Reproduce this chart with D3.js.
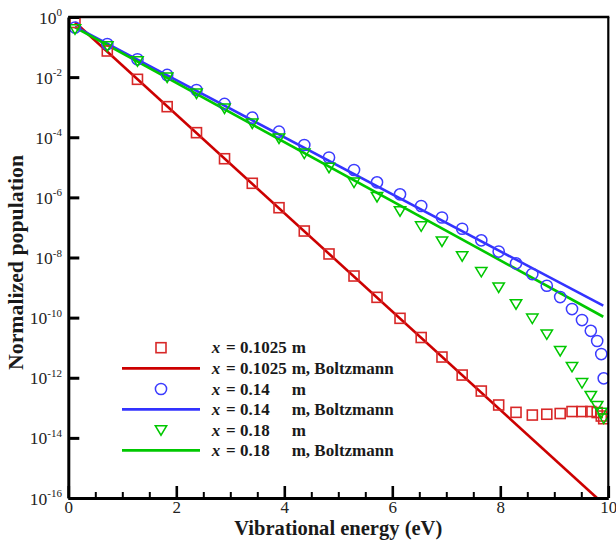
<!DOCTYPE html>
<html><head><meta charset="utf-8">
<script src="https://cdn.jsdelivr.net/npm/d3@7"></script>
<style>
html,body{margin:0;padding:0;background:#fff;}
</style></head>
<body>
<svg id="chart" width="616" height="544"></svg>
<script>
// ---- data ----
const energy = [0.124, 0.722, 1.281, 1.831, 2.374, 2.893, 3.407, 3.902, 4.370, 4.828, 5.291, 5.717, 6.143, 6.535, 6.920, 7.294, 7.648, 7.970, 8.291, 8.593, 8.861, 9.109, 9.328, 9.513, 9.676, 9.794, 9.870, 9.915];
const popX01025 = [6.56e-1, 7.40e-2, 8.45e-3, 1.04e-3, 1.42e-4, 1.93e-5, 2.94e-6, 4.53e-7, 7.60e-8, 1.31e-8, 2.42e-9, 4.73e-10, 9.48e-11, 2.18e-11, 4.89e-12, 1.23e-12, 3.61e-13, 1.24e-13, 7.06e-14, 5.75e-14, 6.11e-14, 6.46e-14, 7.52e-14, 7.52e-14, 7.52e-14, 6.97e-14, 5.33e-14, 4.34e-14];
const popX014 = [4.48e-1, 1.26e-1, 3.92e-2, 1.18e-2, 3.73e-3, 1.28e-3, 4.47e-4, 1.53e-4, 5.52e-5, 2.12e-5, 8.13e-6, 3.17e-6, 1.26e-6, 5.16e-7, 2.14e-7, 9.06e-8, 3.73e-8, 1.58e-8, 6.40e-9, 2.82e-9, 1.15e-9, 4.84e-10, 1.93e-10, 8.32e-11, 3.64e-11, 1.67e-11, 6.15e-12, 9.57e-13];
const popX018 = [3.99e-1, 1.08e-1, 3.44e-2, 9.86e-3, 2.90e-3, 9.18e-4, 2.91e-4, 9.23e-5, 2.92e-5, 9.84e-6, 3.17e-6, 1.05e-6, 3.52e-7, 1.11e-7, 3.48e-8, 1.12e-8, 3.37e-9, 1.02e-9, 2.83e-10, 9.48e-11, 2.81e-11, 7.92e-12, 2.33e-12, 6.73e-13, 2.52e-13, 1.17e-13, 6.97e-14, 4.47e-14];
// Boltzmann fits (straight lines on log scale) — end points
const boltzE_X01025 = [0.124, 9.79];
const boltzN_X01025 = [6.67e-1, 1e-16];
const boltzE_X014 = [0.124, 9.907];
const boltzN_X014 = [4.75e-1, 2.49e-10];
const boltzE_X018 = [0.124, 9.907];
const boltzN_X018 = [4.48e-1, 1.07e-10];

const xTicks = [0, 2, 4, 6, 8, 10];
const xMinorTicks = [0.5, 1, 1.5, 2.5, 3, 3.5, 4.5, 5, 5.5, 6.5, 7, 7.5, 8.5, 9, 9.5];
const yTicks = [1e0, 1e-2, 1e-4, 1e-6, 1e-8, 1e-10, 1e-12, 1e-14, 1e-16];
const yTickExp = ["0", "-2", "-4", "-6", "-8", "-10", "-12", "-14", "-16"];
const legendLabels = [
  ["0.1025", "m"], ["0.1025", "m, Boltzmann"],
  ["0.14", "m"], ["0.14", "m, Boltzmann"],
  ["0.18", "m"], ["0.18", "m, Boltzmann"]
];

// ---- styles ----
const SERIF = '"Liberation Serif"';
const RED_M = "#d82828", RED_L = "#cc0000";
const BLUE_M = "#3c3cff", BLUE_L = "#3333ff";
const GREEN_M = "#00c800", GREEN_L = "#00c800";

const svg = d3.select("#chart");
const L = 68.3, R = 608.3, T = 17, B = 498;
const x = d3.scaleLinear().domain([0, 10]).range([L, R]);
const y = d3.scaleLog().domain([1e-16, 1]).range([B, T]);

svg.append("defs").append("clipPath").attr("id", "clip")
  .append("rect").attr("x", L).attr("y", T).attr("width", R - L).attr("height", B - T);

const plot = svg.append("g").attr("clip-path", "url(#clip)");

function zip(a, b) { return a.map((v, i) => [v, b[i]]); }
const line = d3.line().x(d => x(d[0])).y(d => y(d[1]));

// Boltzmann lines
[[boltzE_X01025, boltzN_X01025, RED_L], [boltzE_X014, boltzN_X014, BLUE_L], [boltzE_X018, boltzN_X018, GREEN_L]]
  .forEach(([e, n, c]) => {
    plot.append("path").attr("d", line(zip(e, n))).attr("fill", "none")
      .attr("stroke", c).attr("stroke-width", 2.6);
  });

// markers
const sq = 10, cr = 5.6;
const triPath = "M-5.7,-4.3L5.7,-4.3L0,5.2Z";
function drawSquares(g, pts, c) {
  g.selectAll(null).data(pts).enter().append("rect")
    .attr("x", d => x(d[0]) - sq / 2).attr("y", d => y(d[1]) - sq / 2)
    .attr("width", sq).attr("height", sq).attr("fill", "none")
    .attr("stroke", c).attr("stroke-width", 1.6);
}
function drawCircles(g, pts, c) {
  g.selectAll(null).data(pts).enter().append("circle")
    .attr("cx", d => x(d[0])).attr("cy", d => y(d[1])).attr("r", cr)
    .attr("fill", "none").attr("stroke", c).attr("stroke-width", 1.5);
}
function drawTris(g, pts, c) {
  g.selectAll(null).data(pts).enter().append("path")
    .attr("transform", d => `translate(${x(d[0])},${y(d[1])})`)
    .attr("d", triPath).attr("fill", "none").attr("stroke", c).attr("stroke-width", 1.5);
}
drawSquares(plot, zip(energy, popX01025), RED_M);
drawCircles(plot, zip(energy, popX014), BLUE_M);
drawTris(plot, zip(energy, popX018), GREEN_M);

// ---- axes ----
const xAxis = svg.append("g").attr("transform", `translate(0,${B})`)
  .call(d3.axisBottom(x).tickValues(xTicks).tickSizeInner(-12).tickSizeOuter(0).tickPadding(3).tickFormat(d3.format("d")));
xAxis.attr("font-family", SERIF).attr("font-size", 17);
xAxis.select(".domain").attr("stroke-width", 3);
xAxis.selectAll(".tick line").attr("stroke-width", 2.6);
xAxis.selectAll(".tick text").attr("font-size", 17).attr("fill", "#222")
  .style("font-family", SERIF);

const xMinor = svg.append("g").attr("transform", `translate(0,${B})`)
  .call(d3.axisBottom(x).tickValues(xMinorTicks).tickSizeInner(-6).tickSizeOuter(0).tickFormat(""));
xMinor.select(".domain").remove();
xMinor.selectAll(".tick line").attr("stroke-width", 2);
xMinor.selectAll(".tick text").remove();

const yAxis = svg.append("g").attr("transform", `translate(${L},0)`)
  .call(d3.axisLeft(y).tickValues(yTicks).tickSizeInner(-11).tickSizeOuter(0).tickFormat(""));
yAxis.select(".domain").attr("stroke-width", 3);
yAxis.selectAll(".tick line").attr("stroke-width", 3);
yAxis.selectAll(".tick text").remove();

const yLab = svg.append("g");
yTicks.forEach((v, i) => {
  const t = yLab.append("text").attr("x", 62).attr("y", y(v) + 6.5)
    .attr("text-anchor", "end").attr("font-size", 17.5).attr("fill", "#222")
    .style("font-family", SERIF);
  t.append("tspan").text("10");
  t.append("tspan").attr("font-size", 11).attr("dy", -7.5).text(yTickExp[i]);
});

// top and right borders
svg.append("line").attr("x1", L).attr("x2", R + 1).attr("y1", T).attr("y2", T)
  .attr("stroke", "#000").attr("stroke-width", 2.6);
svg.append("line").attr("x1", R).attr("x2", R).attr("y1", T).attr("y2", B)
  .attr("stroke", "#000").attr("stroke-width", 2.2);

// axis titles
svg.append("text").attr("x", 338.3).attr("y", 535).attr("text-anchor", "middle")
  .attr("font-size", 20).attr("font-weight", "bold").attr("fill", "#1a1a1a")
  .style("font-family", SERIF)
  .attr("textLength", 208).attr("lengthAdjust", "spacingAndGlyphs")
  .text("Vibrational energy (eV)");
svg.append("text").attr("transform", "translate(23,262.5) rotate(-90)")
  .attr("text-anchor", "middle").attr("font-size", 20).attr("font-weight", "bold").attr("fill", "#1a1a1a")
  .style("font-family", SERIF)
  .attr("textLength", 215).attr("lengthAdjust", "spacingAndGlyphs")
  .text("Normalized population");

// ---- legend ----
const rowY = [347.7, 368.3, 389, 409.3, 430, 450.3];
const lg = svg.append("g");
const symX = 161;
lg.append("rect").attr("x", symX - sq / 2).attr("y", rowY[0] - sq / 2).attr("width", sq).attr("height", sq)
  .attr("fill", "none").attr("stroke", RED_M).attr("stroke-width", 1.6);
lg.append("line").attr("x1", 122).attr("x2", 200).attr("y1", rowY[1]).attr("y2", rowY[1]).attr("stroke", RED_L).attr("stroke-width", 2.8);
lg.append("circle").attr("cx", symX).attr("cy", rowY[2]).attr("r", cr).attr("fill", "none").attr("stroke", BLUE_M).attr("stroke-width", 1.5);
lg.append("line").attr("x1", 122).attr("x2", 200).attr("y1", rowY[3]).attr("y2", rowY[3]).attr("stroke", BLUE_L).attr("stroke-width", 2.8);
lg.append("path").attr("transform", `translate(${symX},${rowY[4]})`).attr("d", triPath).attr("fill", "none").attr("stroke", GREEN_M).attr("stroke-width", 1.5);
lg.append("line").attr("x1", 122).attr("x2", 200).attr("y1", rowY[5]).attr("y2", rowY[5]).attr("stroke", GREEN_L).attr("stroke-width", 2.8);

legendLabels.forEach((lab, i) => {
  const by = rowY[i] + 5.5;
  const mk = (xx, s) => lg.append("text").attr("x", xx).attr("y", by).attr("font-size", 17)
    .attr("font-weight", "bold").attr("fill", "#1a1a1a").style("font-family", SERIF).text(s);
  mk(211.7, "x").attr("font-style", "italic");
  mk(226, "=");
  mk(240, lab[0]);
  mk(291.7, lab[1]);
});
</script>
</body></html>
